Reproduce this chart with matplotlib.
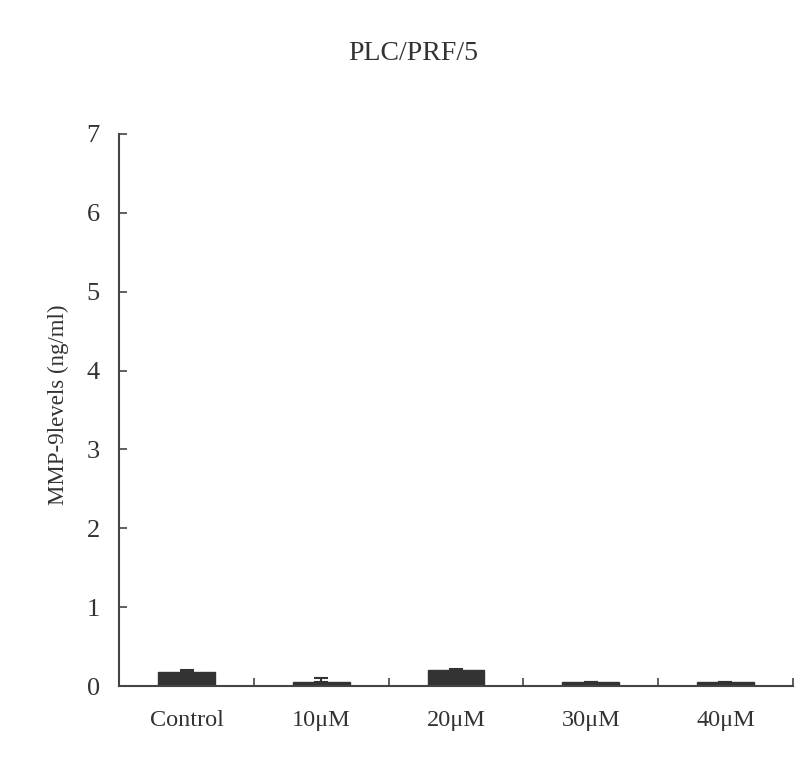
import numpy as np
import matplotlib.pyplot as plt

# data
groups = ["Control", "10\u03bcM", "20\u03bcM", "30\u03bcM", "40\u03bcM"]
levels = [0.18, 0.05, 0.20, 0.05, 0.05]
errors = [0.02, 0.05, 0.02, 0.0, 0.0]

plt.rcParams['font.family'] = ['Liberation Serif', 'DejaVu Serif']
plt.rcParams['text.color'] = '#333333'
plt.rcParams['axes.labelcolor'] = '#333333'
plt.rcParams['xtick.labelcolor'] = '#333333'
plt.rcParams['ytick.labelcolor'] = '#333333'

fig = plt.figure(figsize=(8, 7.62), dpi=100)
ax = fig.add_axes([0.149, 0.0997, 0.842, 0.7245])

x = np.arange(len(groups))
ax.bar(x, levels, width=0.42, color='#333333', edgecolor='#333333',
       yerr=[np.zeros(len(errors)), errors], capsize=5,
       error_kw=dict(ecolor='#333333', elinewidth=1.5, capthick=1.5))

ax.set_xlim(-0.5, len(groups) - 0.5)
ax.set_ylim(0, 7)
ax.set_yticks(range(0, 8))
ax.tick_params(axis='y', direction='in', length=6, width=1.2, color='#444444',
               labelsize=19, pad=14)

# category labels without ticks, boundary ticks drawn as minor ticks
ax.set_xticks(x)
ax.set_xticklabels(groups)
ax.tick_params(axis='x', which='major', length=0, labelsize=17.5, pad=17)
ax.set_xticks(np.arange(0.5, len(groups), 1.0), minor=True)
ax.tick_params(axis='x', which='minor', direction='in', length=6, width=1.2, color='#444444')

for s in ['top', 'right']:
    ax.spines[s].set_visible(False)
for s in ['left', 'bottom']:
    ax.spines[s].set_color('#444444')
    ax.spines[s].set_linewidth(1.5)

ax.set_ylabel('MMP-9levels (ng/ml)', fontsize=16.5)
ax.yaxis.set_label_coords(-0.075, 0.51)
fig.text(0.517, 0.921, 'PLC/PRF/5', ha='center', va='baseline', fontsize=20)

fig.savefig('out.png')
